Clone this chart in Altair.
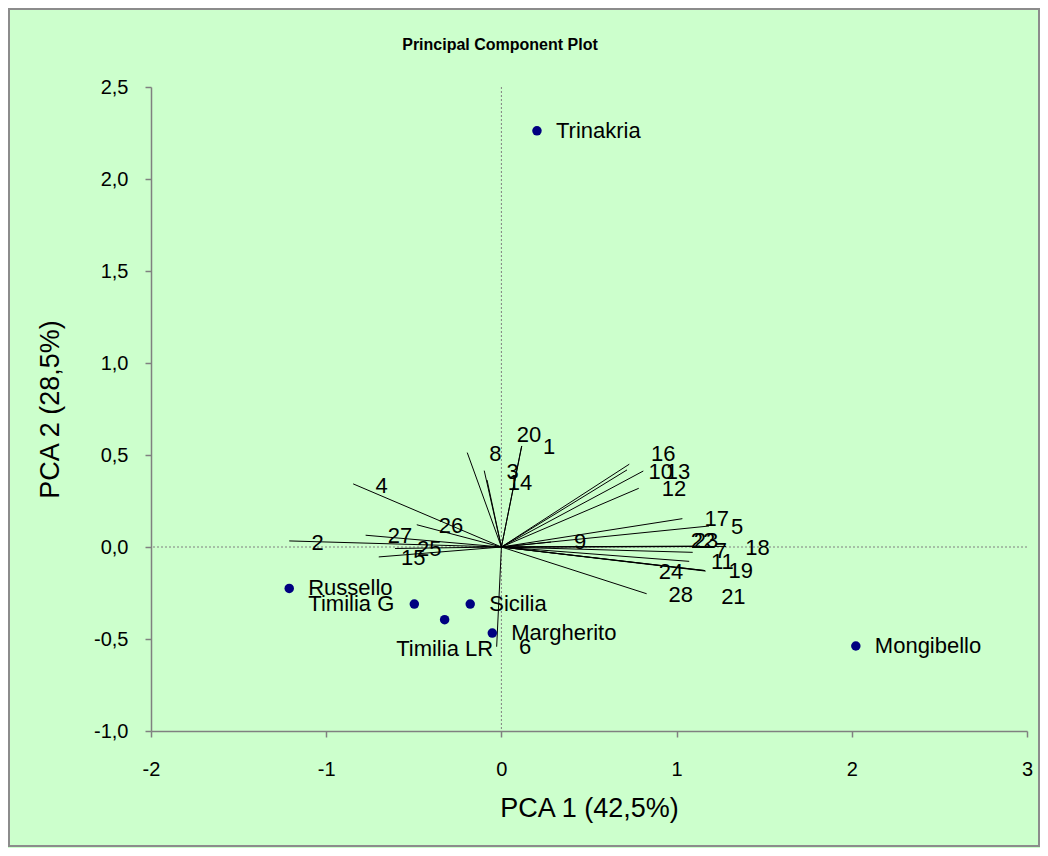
import altair as alt
import pandas as pd

# --- data ---
cultivars = ["Trinakria", "Mongibello", "Russello", "Timilia G", "Sicilia", "Timilia LR", "Margherito"]
pc1 = [0.203, 2.023, -1.211, -0.497, -0.178, -0.324, -0.052]
pc2 = [2.262, -0.538, -0.225, -0.310, -0.310, -0.395, -0.468]

variables = [str(i) for i in range(1, 29)]
# loading vector end points
load1 = [0.116, -1.211, -0.098, -0.846, 1.185, -0.027, 1.092, -0.195, 0.283, 0.717,
         1.072, 0.784, 0.810, -0.082, -0.700, 0.730, 1.033, 1.282, 1.166, 0.116,
         1.160, 1.134, 1.156, 1.162, -0.607, -0.483, -0.775, 0.829]
load2 = [0.549, 0.033, 0.415, 0.343, 0.114, -0.542, -0.029, 0.513, 0.027, 0.419,
         -0.078, 0.319, 0.413, 0.364, -0.054, 0.450, 0.154, 0.003, -0.131, 0.549,
         -0.128, 0.005, 0.003, -0.128, -0.008, 0.121, 0.064, -0.254]
# label positions of the loading numbers
lab1 = [0.272, -1.049, 0.064, -0.683, 1.346, 0.135, 1.253, -0.035, 0.449, 0.909,
        1.261, 0.985, 1.008, 0.106, -0.503, 0.924, 1.229, 1.462, 1.366, 0.158,
        1.324, 1.151, 1.168, 0.968, -0.412, -0.288, -0.579, 1.023]
lab2 = [0.545, 0.023, 0.409, 0.333, 0.110, -0.545, -0.022, 0.504, 0.029, 0.408,
        -0.080, 0.315, 0.406, 0.346, -0.058, 0.506, 0.151, -0.005, -0.131, 0.609,
        -0.270, 0.035, 0.035, -0.134, -0.013, 0.114, 0.061, -0.261]

x_ticks = [-2, -1, 0, 1, 2, 3]
y_ticks = [-1.0, -0.5, 0.0, 0.5, 1.0, 1.5, 2.0, 2.5]

FONT = "Liberation Sans"
W, H = 876, 644

df_c = pd.DataFrame({"name": cultivars, "pc1": pc1, "pc2": pc2})
df_v = pd.DataFrame({"var": variables, "l1": load1, "l2": load2, "t1": lab1, "t2": lab2})

xscale = alt.Scale(domain=[-2, 3], nice=False, zero=False)
yscale = alt.Scale(domain=[-1, 2.5], nice=False, zero=False)

xaxis = alt.Axis(
    title="PCA 1 (42,5%)", values=x_ticks, grid=False, labelFlush=False,
    labelExpr="(datum.value < 0 ? '-' : '') + format(abs(datum.value), 'd')",
    domainColor="#808080", domainWidth=1.5, tickColor="#808080", tickSize=6, tickWidth=1.5,
    labelFontSize=20, labelFont=FONT, labelColor="black", labelPadding=22,
    titleFontSize=27, titleFont=FONT, titleFontWeight="normal", titleColor="black",
    titleX=W / 2, titleY=77, titleBaseline="middle", titleAlign="center",
)
yaxis = alt.Axis(
    title="PCA 2 (28,5%)", values=y_ticks, grid=False, labelFlush=False,
    labelExpr="(datum.value < 0 ? '-' : '') + replace(format(abs(datum.value), '.1f'), '.', ',')",
    domainColor="#808080", domainWidth=1.5, tickColor="#808080", tickSize=6, tickWidth=1.5,
    labelFontSize=20, labelFont=FONT, labelColor="black", labelPadding=17,
    titleFontSize=27, titleFont=FONT, titleFontWeight="normal", titleColor="black",
    titleX=-101, titleY=H / 2, titleBaseline="middle", titleAlign="center", titleAngle=270,
)

frame = alt.Chart(alt.Data(values=[{}])).mark_rect(
    filled=False, stroke="#8c8c8c", strokeWidth=2
).encode(x=alt.value(-142), x2=alt.value(888), y=alt.value(-78), y2=alt.value(759))

zero_df = pd.DataFrame({"z": [0.0]})
vline = alt.Chart(zero_df).mark_rule(color="#808080", strokeDash=[2, 2], strokeWidth=1).encode(
    x=alt.X("z:Q", scale=xscale, axis=xaxis)
)
hline = alt.Chart(zero_df).mark_rule(color="#808080", strokeDash=[2, 2], strokeWidth=1).encode(
    y=alt.Y("z:Q", scale=yscale, axis=yaxis)
)

vectors = alt.Chart(df_v).transform_calculate(ox="0", oy="0").mark_rule(
    color="black", strokeWidth=1
).encode(
    x=alt.X("ox:Q", scale=xscale, axis=xaxis),
    y=alt.Y("oy:Q", scale=yscale, axis=yaxis),
    x2="l1:Q", y2="l2:Q",
)

var_labels = alt.Chart(df_v).mark_text(
    font=FONT, fontSize=22, color="black", align="center", baseline="middle"
).encode(
    x=alt.X("t1:Q", scale=xscale, axis=xaxis),
    y=alt.Y("t2:Q", scale=yscale, axis=yaxis),
    text="var:N",
)

points = alt.Chart(df_c).mark_point(
    filled=True, shape="circle", size=90, color="#000080", opacity=1
).encode(
    x=alt.X("pc1:Q", scale=xscale, axis=xaxis),
    y=alt.Y("pc2:Q", scale=yscale, axis=yaxis),
)

right_names = ["Trinakria", "Mongibello", "Russello", "Sicilia", "Margherito"]
left_names = ["Timilia G"]
below_names = ["Timilia LR"]

def cult_text(names, **kw):
    return alt.Chart(df_c).transform_filter(
        alt.FieldOneOfPredicate(field="name", oneOf=names)
    ).mark_text(font=FONT, fontSize=22, color="black", baseline="middle", **kw).encode(
        x=alt.X("pc1:Q", scale=xscale, axis=xaxis),
        y=alt.Y("pc2:Q", scale=yscale, axis=yaxis),
        text="name:N",
    )

lab_right = cult_text(right_names, align="left", dx=19)
lab_left = cult_text(left_names, align="right", dx=-20)
lab_below = cult_text(below_names, align="center", dy=29)

chart = alt.layer(
    frame, vline, hline, vectors, var_labels, points, lab_right, lab_left, lab_below
).properties(
    width=W, height=H,
    title=alt.TitleParams(
        "Principal Component Plot", font=FONT, fontSize=16, fontWeight="bold",
        color="black", anchor="middle", frame="group", dx=-89, dy=53, offset=0,
        baseline="middle",
    ),
    padding={"left": 143, "top": 79, "right": 13, "bottom": 117},
    autosize=alt.AutoSizeParams(type="none"),
).configure(background="#CCFFCC").configure_view(stroke=None)

chart.save("out.html", embed_options={"renderer": "svg", "actions": False})
